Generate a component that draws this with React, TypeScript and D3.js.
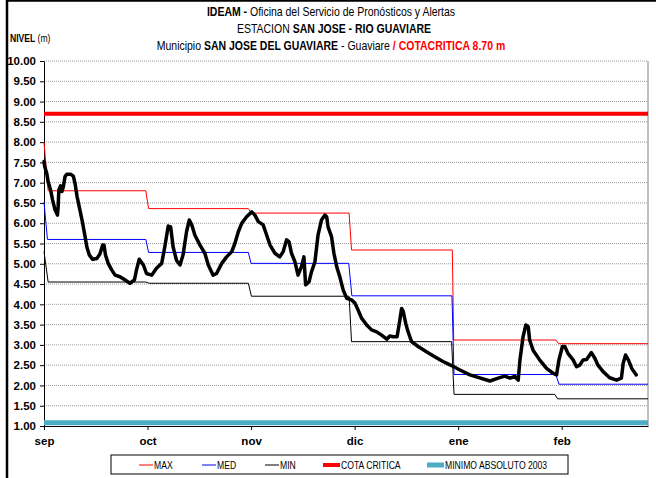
import React, { useEffect, useRef } from 'react';
import * as d3 from 'd3';

// x values are days from 1 sep, every month counted as 30 days (axis is evenly spaced)
const months = ['sep', 'oct', 'nov', 'dic', 'ene', 'feb'];
const monthStart = [0, 30, 60, 90, 120, 150];
const yTicks = d3.range(1, 10.001, 0.5);

const observed: [number, number][] = [
  [0, 7.52], [0.2, 7.4], [0.8, 7.23], [1.2, 7.02], [1.9, 6.82], [2.5, 6.57], [3.2, 6.33], [3.9, 6.2],
  [4.1, 6.41], [4.3, 6.82], [4.8, 6.92], [5.2, 6.78], [5.6, 6.9], [6.1, 7.15], [6.6, 7.21], [7.7, 7.21],
  [8.5, 7.16], [9.0, 6.98], [9.6, 6.65], [10.4, 6.33], [11.2, 6.0], [11.9, 5.67], [12.4, 5.42], [13.1, 5.22],
  [14.1, 5.11], [15.3, 5.13], [16.2, 5.24], [17.0, 5.46], [17.4, 5.46], [17.8, 5.22], [18.6, 5.01], [19.6, 4.85],
  [20.6, 4.72], [22.0, 4.68], [23.5, 4.6], [24.9, 4.52], [26.2, 4.6], [26.8, 4.85], [27.6, 5.11], [28.8, 4.97],
  [29.7, 4.76], [31.2, 4.72], [32.6, 4.89], [34.1, 5.01], [35.0, 5.42], [36.0, 5.93], [36.7, 5.91], [37.4, 5.42],
  [38.4, 5.08], [39.4, 4.97], [40.3, 5.22], [41.3, 5.79], [42.1, 6.08], [42.8, 5.96], [43.7, 5.71], [45.2, 5.46],
  [46.6, 5.26], [47.6, 4.97], [49.0, 4.72], [50.0, 4.76], [51.5, 5.01], [52.9, 5.17], [54.4, 5.3], [55.3, 5.5],
  [56.3, 5.79], [57.3, 6.0], [58.7, 6.16], [60.2, 6.28], [61.1, 6.2], [62.1, 6.04], [63.5, 5.96], [64.5, 5.71],
  [65.5, 5.46], [66.9, 5.26], [68.3, 5.17], [69.3, 5.3], [70.3, 5.59], [71.0, 5.54], [71.7, 5.26], [72.7, 5.05],
  [73.6, 4.72], [74.6, 4.93], [75.3, 5.17], [75.8, 4.48], [76.8, 4.56], [77.5, 4.8], [78.5, 5.05], [79.4, 5.71],
  [80.4, 6.08], [81.4, 6.2], [81.9, 6.16], [82.3, 5.91], [83.3, 5.67], [84.0, 5.26], [84.8, 4.93], [85.7, 4.68],
  [86.7, 4.35], [87.7, 4.15], [89.1, 4.11], [90.1, 4.03], [91.0, 3.86], [92.0, 3.66], [93.5, 3.49], [94.9, 3.37],
  [96.4, 3.32], [97.8, 3.24], [99.3, 3.14], [100.2, 3.22], [101.2, 3.2], [102.3, 3.2], [103.1, 3.61], [103.6, 3.9],
  [104.1, 3.82], [104.8, 3.53], [105.5, 3.32], [106.5, 3.08], [108.4, 2.96], [110.8, 2.83], [113.2, 2.71], [115.6, 2.59],
  [118.1, 2.49], [120.5, 2.38], [123.4, 2.26], [129.2, 2.11], [131.6, 2.18], [133.5, 2.23], [135.0, 2.18], [136.4, 2.22],
  [137.4, 2.13], [137.9, 2.63], [138.8, 3.2], [139.6, 3.49], [140.3, 3.45], [140.7, 3.12], [141.7, 2.87], [143.6, 2.63],
  [145.6, 2.42], [147.5, 2.3], [148.5, 2.26], [149.2, 2.63], [150.2, 2.96], [150.9, 2.96], [151.8, 2.79], [153.3, 2.63],
  [154.3, 2.46], [155.2, 2.5], [156.2, 2.63], [157.2, 2.64], [158.6, 2.81], [159.6, 2.67], [160.5, 2.5], [162.0, 2.34],
  [163.9, 2.19], [165.9, 2.13], [167.3, 2.18], [167.8, 2.54], [168.5, 2.75], [169.3, 2.63], [170.3, 2.42], [171.6, 2.26],
];

const maxSeries: [number, number][] = [
  [0, 8.0], [1.2, 6.8], [29.5, 6.8], [30.3, 6.36], [59.2, 6.36], [60.0, 6.25], [88.4, 6.25], [89.1, 5.34],
  [118.3, 5.34], [118.7, 3.12], [148.3, 3.12], [149.1, 3.03], [175, 3.03],
];
const medSeries: [number, number][] = [
  [0, 6.52], [1.0, 5.6], [29.5, 5.6], [30.3, 5.28], [59.2, 5.28], [60.0, 5.01], [88.3, 5.01], [89.2, 4.21],
  [118.2, 4.21], [118.8, 2.27], [148.3, 2.27], [149.2, 2.03], [175, 2.03],
];
const minSeries: [number, number][] = [
  [0, 5.3], [1.2, 4.55], [29.5, 4.55], [30.5, 4.52], [59.2, 4.52], [60.1, 4.2], [88.4, 4.2], [89.1, 3.08],
  [118.1, 3.08], [118.8, 1.78], [148.0, 1.78], [148.8, 1.67], [175, 1.67],
];
const cotaCritica = 8.7;
const minimoAbsoluto = 1.08;

const legendItems = [
  { name: 'MAX', color: '#ff0000', width: 1 },
  { name: 'MED', color: '#0000ff', width: 1 },
  { name: 'MIN', color: '#000000', width: 1 },
  { name: 'COTA CRITICA', color: '#ff0000', width: 4 },
  { name: 'MINIMO ABSOLUTO 2003', color: '#4bacc6', width: 5 },
];
const legendX = [139, 202, 265, 323, 427];

const sans = '"Liberation Sans", Arial, sans-serif';
const squeeze = 0.82; // fakes Arial Narrow

export default function App() {
  const ref = useRef<SVGSVGElement>(null);

  useEffect(() => {
    var svg, x, y, line;
    svg = d3.select(ref.current);
    svg.selectAll('*').remove();

    x = d3.scaleLinear().domain([0, 175]).range([44, 648]);
    y = d3.scaleLinear().domain([1, 10]).range([426, 61]);

    line = d3.line<[number, number]>()
      .x(function(d) { return x(d[0]); })
      .y(function(d) { return y(d[1]); });

    function narrowText(px, py, size, anchor) {
      return svg.append('g')
          .attr('transform', 'translate(' + px + ',' + py + ') scale(' + squeeze + ',1)')
        .append('text')
          .attr('font-family', sans).attr('font-size', size)
          .attr('text-anchor', anchor);
    }

    // outer frame
    svg.append('rect')
      .attr('x', 7).attr('y', 0.5).attr('width', 700).attr('height', 520)
      .attr('fill', 'white').attr('stroke', '#000').attr('stroke-width', 2.5);

    // title
    var t1 = narrowText(331, 16, 12.8, 'middle');
    t1.append('tspan').attr('font-weight', 'bold').text('IDEAM - ');
    t1.append('tspan').text('Oficina del Servicio de Pronósticos y Alertas');
    var t2 = narrowText(334, 33, 12.8, 'middle');
    t2.append('tspan').text('ESTACION ');
    t2.append('tspan').attr('font-weight', 'bold').text('SAN JOSE - RIO GUAVIARE');
    var t3 = narrowText(331, 50, 12.8, 'middle');
    t3.append('tspan').text('Municipio ');
    t3.append('tspan').attr('font-weight', 'bold').text('SAN JOSE DEL GUAVIARE');
    t3.append('tspan').text(' - Guaviare   ');
    t3.append('tspan').attr('font-weight', 'bold').attr('fill', '#ff0000').text('/  COTACRITICA 8.70 m');

    var yl = narrowText(10, 42, 10.5, 'start');
    yl.append('tspan').attr('font-weight', 'bold').text('NIVEL ');
    yl.append('tspan').text('(m)');

    // gridlines
    svg.append('g').selectAll('line')
      .data(yTicks.slice(1))
      .enter().append('line')
        .attr('x1', 44).attr('x2', 648)
        .attr('y1', function(d) { return y(d); })
        .attr('y2', function(d) { return y(d); })
        .attr('stroke', '#9a9a9a').attr('stroke-width', 1)
        .attr('stroke-dasharray', '1,1');

    svg.append('line')
      .attr('x1', 648).attr('x2', 648).attr('y1', 61).attr('y2', 426)
      .attr('stroke', '#808080').attr('stroke-width', 1);

    // y axis
    var ya = svg.append('g').attr('transform', 'translate(44,0)')
      .call(d3.axisLeft(y).tickValues(yTicks).tickSize(4).tickSizeOuter(0)
        .tickFormat(function(d) { return d3.format('.2f')(d); }));
    ya.select('.domain').attr('stroke', '#000');
    ya.selectAll('text')
      .attr('font-family', sans).attr('font-size', 11.5).attr('font-weight', 'bold')
      .attr('fill', '#000').attr('x', -8);

    // x axis
    var xa = svg.append('g').attr('transform', 'translate(0,426)')
      .call(d3.axisBottom(x).tickValues(monthStart).tickSize(4).tickSizeOuter(0)
        .tickFormat(function(d, i) { return months[i]; }));
    xa.select('.domain').attr('stroke', '#000');
    xa.selectAll('text')
      .attr('font-family', sans).attr('font-size', 11.5).attr('font-weight', 'bold')
      .attr('fill', '#000').attr('y', 11);

    // reference lines
    svg.append('line')
      .attr('x1', 44).attr('x2', 648)
      .attr('y1', y(minimoAbsoluto)).attr('y2', y(minimoAbsoluto))
      .attr('stroke', '#4bacc6').attr('stroke-width', 5);
    svg.append('line')
      .attr('x1', 44).attr('x2', 648)
      .attr('y1', y(cotaCritica)).attr('y2', y(cotaCritica))
      .attr('stroke', '#ff0000').attr('stroke-width', 4);

    // max / med / min
    [[maxSeries, '#ff0000'], [medSeries, '#0000ff'], [minSeries, '#000000']].forEach(function(s: any) {
      svg.append('path')
        .datum(s[0])
        .attr('d', line)
        .attr('fill', 'none')
        .attr('stroke', s[1])
        .attr('stroke-width', 1);
    });

    // observed level
    svg.append('path')
      .datum(observed)
      .attr('d', line)
      .attr('fill', 'none')
      .attr('stroke', '#000')
      .attr('stroke-width', 3.5)
      .attr('stroke-linejoin', 'round')
      .attr('stroke-linecap', 'round');

    // legend
    svg.append('rect')
      .attr('x', 111).attr('y', 455).attr('width', 457).attr('height', 19)
      .attr('fill', 'white').attr('stroke', '#000').attr('stroke-width', 1);
    legendItems.forEach(function(d, i) {
      var w = d.width > 2 ? 17 : 14;
      svg.append('line')
        .attr('x1', legendX[i]).attr('x2', legendX[i] + w)
        .attr('y1', 465).attr('y2', 465)
        .attr('stroke', d.color)
        .attr('stroke-width', d.width);
      narrowText(legendX[i] + w + 1, 468.5, 10.5, 'start').text(d.name);
    });
  }, []);

  return (
    <svg ref={ref} width={656} height={478}
      style={{ position: 'absolute', left: 0, top: 0, display: 'block' }} />
  );
}
